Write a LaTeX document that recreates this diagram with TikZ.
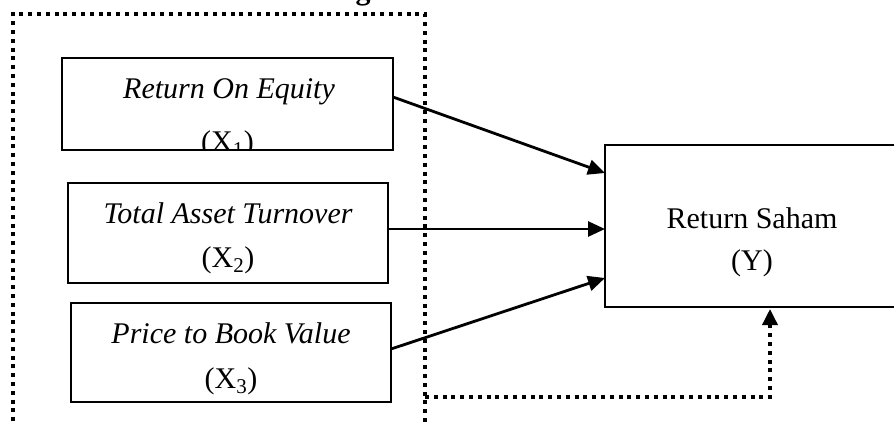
\documentclass[tikz,border=0pt]{standalone}
\usepackage{fontspec}
\setmainfont{Liberation Serif}
\usetikzlibrary{arrows.meta}
\begin{document}
\begin{tikzpicture}[x=1pt,y=-1pt,
  varbox/.style={draw=black, line width=2pt, inner sep=0pt, outer sep=0pt},
  lbl/.style={font=\fontsize{30}{36}\selectfont, anchor=base, inner sep=0pt},
  ilbl/.style={lbl, font=\fontsize{30}{36}\selectfont\itshape},
  link/.style={line width=2.8pt, -{Triangle[length=17pt,width=15pt]}},
  dotline/.style={line width=3.5pt, dash pattern=on 4pt off 4.8pt},
  dotlink/.style={dotline, -{Triangle[length=16pt,width=15pt]}}]
\useasboundingbox (0,0) rectangle (894,421);

% heading above the frame (only its descender shows)
\node[lbl, font=\fontsize{30}{36}\selectfont\bfseries] (head) at (363,-1) {g};

% dotted frame around the independent variables
\coordinate (fbl) at (13,430);
\coordinate (ftl) at (13,14);
\coordinate (ftr) at (425,14);
\coordinate (fbr) at (425,430);
\draw[dotline] (fbl) -- (ftl) -- (ftr) -- (fbr);

% independent variables
\node[varbox, minimum width=331pt, minimum height=92pt] (roe) at (227.5,104) {};
\node[varbox, minimum width=320pt, minimum height=100pt] (tato) at (228,233) {};
\node[varbox, minimum width=320pt, minimum height=99pt] (pbv) at (231,352.5) {};

\node[ilbl] (roet) at (229,98) {Return On Equity};
\begin{scope}
  \clip (roe.north west) rectangle (roe.south east);
  \node[lbl] (roex) at (227.5,151) {(X\textsubscript{1})};
\end{scope}
\node[ilbl] (tatot) at (228,223) {Total Asset Turnover};
\node[lbl] (tatox) at (228,267) {(X\textsubscript{2})};
\node[ilbl] (pbvt) at (231,343) {Price to Book Value};
\node[lbl] (pbvx) at (231,388) {(X\textsubscript{3})};

% dependent variable
\node[varbox, minimum width=300pt, minimum height=162pt] (ret) at (755,226) {};
\node[lbl] (rett) at (752,228) {Return Saham};
\node[lbl] (retx) at (752,270) {(Y)};

% partial effects
\draw[link] ([yshift=7pt]roe.east) -- ([yshift=53pt]ret.west);
\draw[link] ([yshift=4pt]tato.east) -- ([yshift=-3pt]ret.west);
\draw[link] ([yshift=3.5pt]pbv.east) -- ([yshift=-52pt]ret.west);

% simultaneous effect
\coordinate (sstart) at (425,397);
\coordinate (scorner) at (770,397);
\draw[dotlink] (sstart) -- (scorner) -- ([yshift=-2pt]scorner |- ret.south);
\end{tikzpicture}
\end{document}
